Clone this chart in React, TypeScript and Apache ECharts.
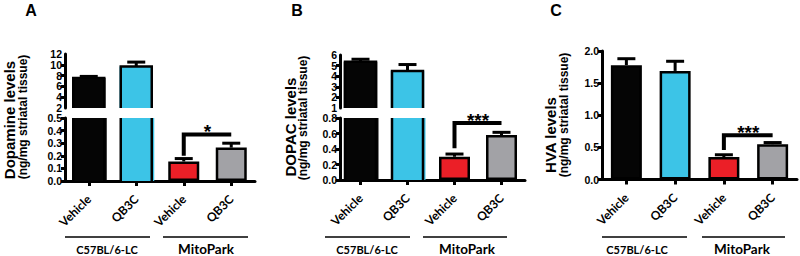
import React, { useEffect, useRef } from 'react';
import * as echarts from 'echarts';

const categories = ['Vehicle', 'QB3C', 'Vehicle', 'QB3C'];
const groupLabels = ['C57BL/6-LC', 'MitoPark'];
const barColors = ['#050505', '#3CC4E7', '#EB1F27', '#A2A2A6'];

const dopamineMean = [7.55, 9.7, 0.155, 0.265];
const dopamineErrTop = [7.85, 10.5, 0.178, 0.3];
const dopacMean = [5.37, 4.5, 0.3, 0.58];
const dopacErrTop = [5.6, 5.1, 0.335, 0.615];
const hvaMean = [1.78, 1.69, 0.35, 0.55];
const hvaErrTop = [1.88, 1.84, 0.385, 0.575];

const panelLetters = ['A', 'B', 'C'];
const yTitles = ['Dopamine levels', 'DOPAC levels', 'HVA levels'];
const ySubtitle = '(ng/mg striatal tissue)';
const significance = ['*', '***', '***'];
// [bracket level, left foot level]
const bracketLevels = [
  [0.37, 0.2],
  [0.735, 0.41],
  [0.69, 0.46],
];

const upperScaleA = { min: 2, max: 12, interval: 2 };
const lowerScaleA = { min: 0, max: 0.5, interval: 0.1 };
const upperScaleB = { min: 1, max: 6, interval: 1 };
const lowerScaleB = { min: 0, max: 0.8, interval: 0.2 };
const scaleC = { min: 0, max: 2, interval: 0.5 };

const FONT_NUM = "'Liberation Sans', Arial, sans-serif";
const FONT_CAT = "Lato, 'Open Sans', sans-serif";
const BAR_W = 31;
const BORDER_W = 2.5;

// mode: 'all' = every label, 'inner' = all but the end labels, 'ends' = only the end labels (no line/ticks)
function yAxisCfg(gridIndex: number, scale: any, decimals: number, offset = 0, mode: 'all' | 'inner' | 'ends' = 'all') {
  const ends = mode === 'ends';
  return {
    type: 'value',
    gridIndex,
    position: 'left',
    min: scale.min,
    max: scale.max,
    interval: scale.interval,
    offset,
    axisLine: { show: !ends, lineStyle: { color: '#000', width: 3 } },
    axisTick: { show: !ends, length: 4, lineStyle: { color: '#000', width: 3 } },
    axisLabel: {
      color: '#000',
      fontFamily: FONT_NUM,
      fontWeight: 'bold',
      fontSize: 10.5,
      margin: 3,
      showMinLabel: mode !== 'inner',
      showMaxLabel: mode !== 'inner',
      hideOverlap: false,
      formatter: (v: number) =>
        ends && v !== scale.min && v !== scale.max ? '' : v.toFixed(decimals),
    },
    splitLine: { show: false },
  };
}

function xAxisCfg(gridIndex: number, visible: boolean) {
  return {
    type: 'category',
    gridIndex,
    data: categories,
    show: visible,
    axisLine: { show: visible, onZero: false, lineStyle: { color: '#000', width: 3 } },
    axisTick: { show: visible, alignWithLabel: true, length: 5, lineStyle: { color: '#000', width: 3 } },
    axisLabel: {
      show: visible,
      rotate: 45,
      color: '#000',
      fontFamily: FONT_CAT,
      fontWeight: 'bold',
      fontSize: 12,
      margin: 16,
      interval: 0,
    },
    splitLine: { show: false },
  };
}

// bars; "open" bars (cut by the axis break) get no border, their sides are drawn by outlineSeries
function barSeries(axisIndex: number, means: number[], include: number[], open: number[] = []) {
  return {
    type: 'bar',
    xAxisIndex: axisIndex,
    yAxisIndex: axisIndex,
    barWidth: open.length ? BAR_W + BORDER_W : BAR_W,
    barGap: '-100%',
    clip: true,
    data: means.map((v, i) =>
      include.includes(i)
        ? {
            value: v,
            itemStyle: open.includes(i)
              ? { color: barColors[i], borderWidth: 0 }
              : { color: barColors[i], borderColor: '#000', borderWidth: BORDER_W },
          }
        : '-'
    ),
  };
}

function outlineSeries(axisIndex: number, means: number[], include: number[]) {
  return {
    type: 'custom',
    xAxisIndex: axisIndex,
    yAxisIndex: axisIndex,
    clip: false,
    z: 3,
    data: include.map((i) => [i, means[i]]),
    renderItem: (params: any, api: any) => {
      const cs = params.coordSys;
      const p = api.coord([api.value(0), api.value(1)]);
      const bottom = cs.y + cs.height;
      const inside = p[1] > cs.y;
      const top = inside ? p[1] : cs.y;
      const half = BAR_W / 2;
      const children: any[] = inside
        ? [
            {
              type: 'polyline',
              shape: {
                points: [
                  [p[0] - half, bottom],
                  [p[0] - half, top],
                  [p[0] + half, top],
                  [p[0] + half, bottom],
                ],
              },
              style: { stroke: '#000', lineWidth: BORDER_W, fill: 'none' },
            },
          ]
        : [
            { type: 'line', shape: { x1: p[0] - half, y1: top, x2: p[0] - half, y2: bottom }, style: { stroke: '#000', lineWidth: BORDER_W } },
            { type: 'line', shape: { x1: p[0] + half, y1: top, x2: p[0] + half, y2: bottom }, style: { stroke: '#000', lineWidth: BORDER_W } },
          ];
      return { type: 'group', children };
    },
  };
}

function errorSeries(axisIndex: number, means: number[], tops: number[], include: number[]) {
  return {
    type: 'custom',
    xAxisIndex: axisIndex,
    yAxisIndex: axisIndex,
    clip: false,
    z: 4,
    data: include.map((i) => [i, means[i], tops[i]]),
    renderItem: (_params: any, api: any) => {
      const x = api.value(0);
      const base = api.coord([x, api.value(1)]);
      const top = api.coord([x, api.value(2)]);
      return {
        type: 'group',
        children: [
          {
            type: 'line',
            shape: { x1: base[0], y1: base[1], x2: top[0], y2: top[1] },
            style: { stroke: '#000', lineWidth: 3 },
          },
          {
            type: 'line',
            shape: { x1: top[0] - 9, y1: top[1], x2: top[0] + 9, y2: top[1] },
            style: { stroke: '#000', lineWidth: 3 },
          },
        ],
      };
    },
  };
}

function bracketSeries(axisIndex: number, levels: number[], label: string) {
  return {
    type: 'custom',
    xAxisIndex: axisIndex,
    yAxisIndex: axisIndex,
    clip: false,
    z: 4,
    data: [[2, 3, levels[0], levels[1]]],
    renderItem: (_params: any, api: any) => {
      const pL = api.coord([api.value(0), api.value(2)]);
      const pR = api.coord([api.value(1), api.value(2)]);
      const pB = api.coord([api.value(0), api.value(3)]);
      return {
        type: 'group',
        children: [
          {
            type: 'polyline',
            shape: { points: [pB, pL, pR] },
            style: { stroke: '#000', lineWidth: 4, fill: 'none' },
          },
          {
            type: 'text',
            x: (pL[0] + pR[0]) / 2,
            y: pL[1] - 3,
            style: {
              text: label,
              font: `bold 19px ${FONT_NUM}`,
              fill: '#000',
              textAlign: 'center',
              textVerticalAlign: 'middle',
            },
          },
        ],
      };
    },
  };
}

function vText(text: string, x: number, y: number, size: number) {
  return {
    type: 'text',
    x,
    y,
    rotation: Math.PI / 2,
    style: {
      text,
      font: `bold ${size}px ${FONT_NUM}`,
      fill: '#000',
      textAlign: 'center',
      textVerticalAlign: 'middle',
    },
  };
}

function hText(text: string, x: number, y: number, font: string) {
  return {
    type: 'text',
    x,
    y,
    style: { text, font, fill: '#000', textAlign: 'center', textVerticalAlign: 'middle' },
  };
}

function hLine(x1: number, x2: number, y: number) {
  return { type: 'line', shape: { x1, y1: y, x2, y2: y }, style: { stroke: '#000', lineWidth: 1.5 } };
}

export default function App() {
  const ref = useRef<HTMLDivElement>(null);
  useEffect(() => {
    if (!ref.current) return;
    const chart = echarts.init(ref.current, null, { renderer: 'svg' });
    const all = [0, 1, 2, 3];
    const c57 = [0, 1];
    const mito = [2, 3];

    const groupTitles = (a: number, b: number, c: number, d: number, ca: number, cb: number) => [
      hLine(a, b, 237),
      hLine(c, d, 237),
      hText(groupLabels[0], ca, 249, `bold 11px ${FONT_CAT}`),
      hText(groupLabels[1], cb, 248.5, `bold 13.5px ${FONT_CAT}`),
    ];

    const option: any = {
      animation: false,
      backgroundColor: '#fff',
      grid: [
        { left: 65, top: 54, width: 190, height: 54 },
        { left: 65, top: 118, width: 190, height: 63 },
        { left: 337, top: 55, width: 188, height: 53 },
        { left: 337, top: 118, width: 188, height: 62 },
        { left: 602, top: 51, width: 195, height: 128.5 },
      ],
      xAxis: [xAxisCfg(0, false), xAxisCfg(1, true), xAxisCfg(2, false), xAxisCfg(3, true), xAxisCfg(4, true)],
      yAxis: [
        yAxisCfg(0, upperScaleA, 0, 0, 'inner'),
        yAxisCfg(1, lowerScaleA, 1),
        yAxisCfg(2, upperScaleB, 0, -3, 'inner'),
        yAxisCfg(3, lowerScaleB, 1, -3),
        yAxisCfg(4, scaleC, 1),
        yAxisCfg(0, upperScaleA, 0, 0, 'ends'),
        yAxisCfg(2, upperScaleB, 0, -3, 'ends'),
      ],
      series: [
        barSeries(0, dopamineMean, c57, c57),
        outlineSeries(0, dopamineMean, c57),
        errorSeries(0, dopamineMean, dopamineErrTop, c57),
        barSeries(1, dopamineMean, c57, c57),
        outlineSeries(1, dopamineMean, c57),
        barSeries(1, dopamineMean, mito),
        errorSeries(1, dopamineMean, dopamineErrTop, mito),
        bracketSeries(1, bracketLevels[0], significance[0]),

        barSeries(2, dopacMean, c57, c57),
        outlineSeries(2, dopacMean, c57),
        errorSeries(2, dopacMean, dopacErrTop, c57),
        barSeries(3, dopacMean, c57, c57),
        outlineSeries(3, dopacMean, c57),
        barSeries(3, dopacMean, mito),
        errorSeries(3, dopacMean, dopacErrTop, mito),
        bracketSeries(3, bracketLevels[1], significance[1]),

        barSeries(4, hvaMean, all),
        errorSeries(4, hvaMean, hvaErrTop, all),
        bracketSeries(4, bracketLevels[2], significance[2]),
      ],
      graphic: [
        hText(panelLetters[0], 31, 10, `bold 16px ${FONT_NUM}`),
        hText(panelLetters[1], 297, 10, `bold 16px ${FONT_NUM}`),
        hText(panelLetters[2], 556, 10, `bold 16px ${FONT_NUM}`),
        vText(yTitles[0], 9, 120, 15),
        vText(ySubtitle, 23, 117, 12),
        vText(yTitles[1], 290, 127, 15),
        vText(ySubtitle, 303, 118, 12),
        vText(yTitles[2], 550, 135, 15),
        vText(ySubtitle, 564, 115, 12),
        ...groupTitles(65, 150, 163, 248, 107, 206),
        ...groupTitles(325, 410, 423, 507, 367, 467),
        ...groupTitles(602, 687, 702, 785, 637, 742),
      ],
    };
    chart.setOption(option);
    return () => chart.dispose();
  }, []);
  return (
    <div
      ref={ref}
      style={{ position: 'absolute', left: 0, top: 0, width: 800, height: 256, background: '#fff' }}
    />
  );
}
